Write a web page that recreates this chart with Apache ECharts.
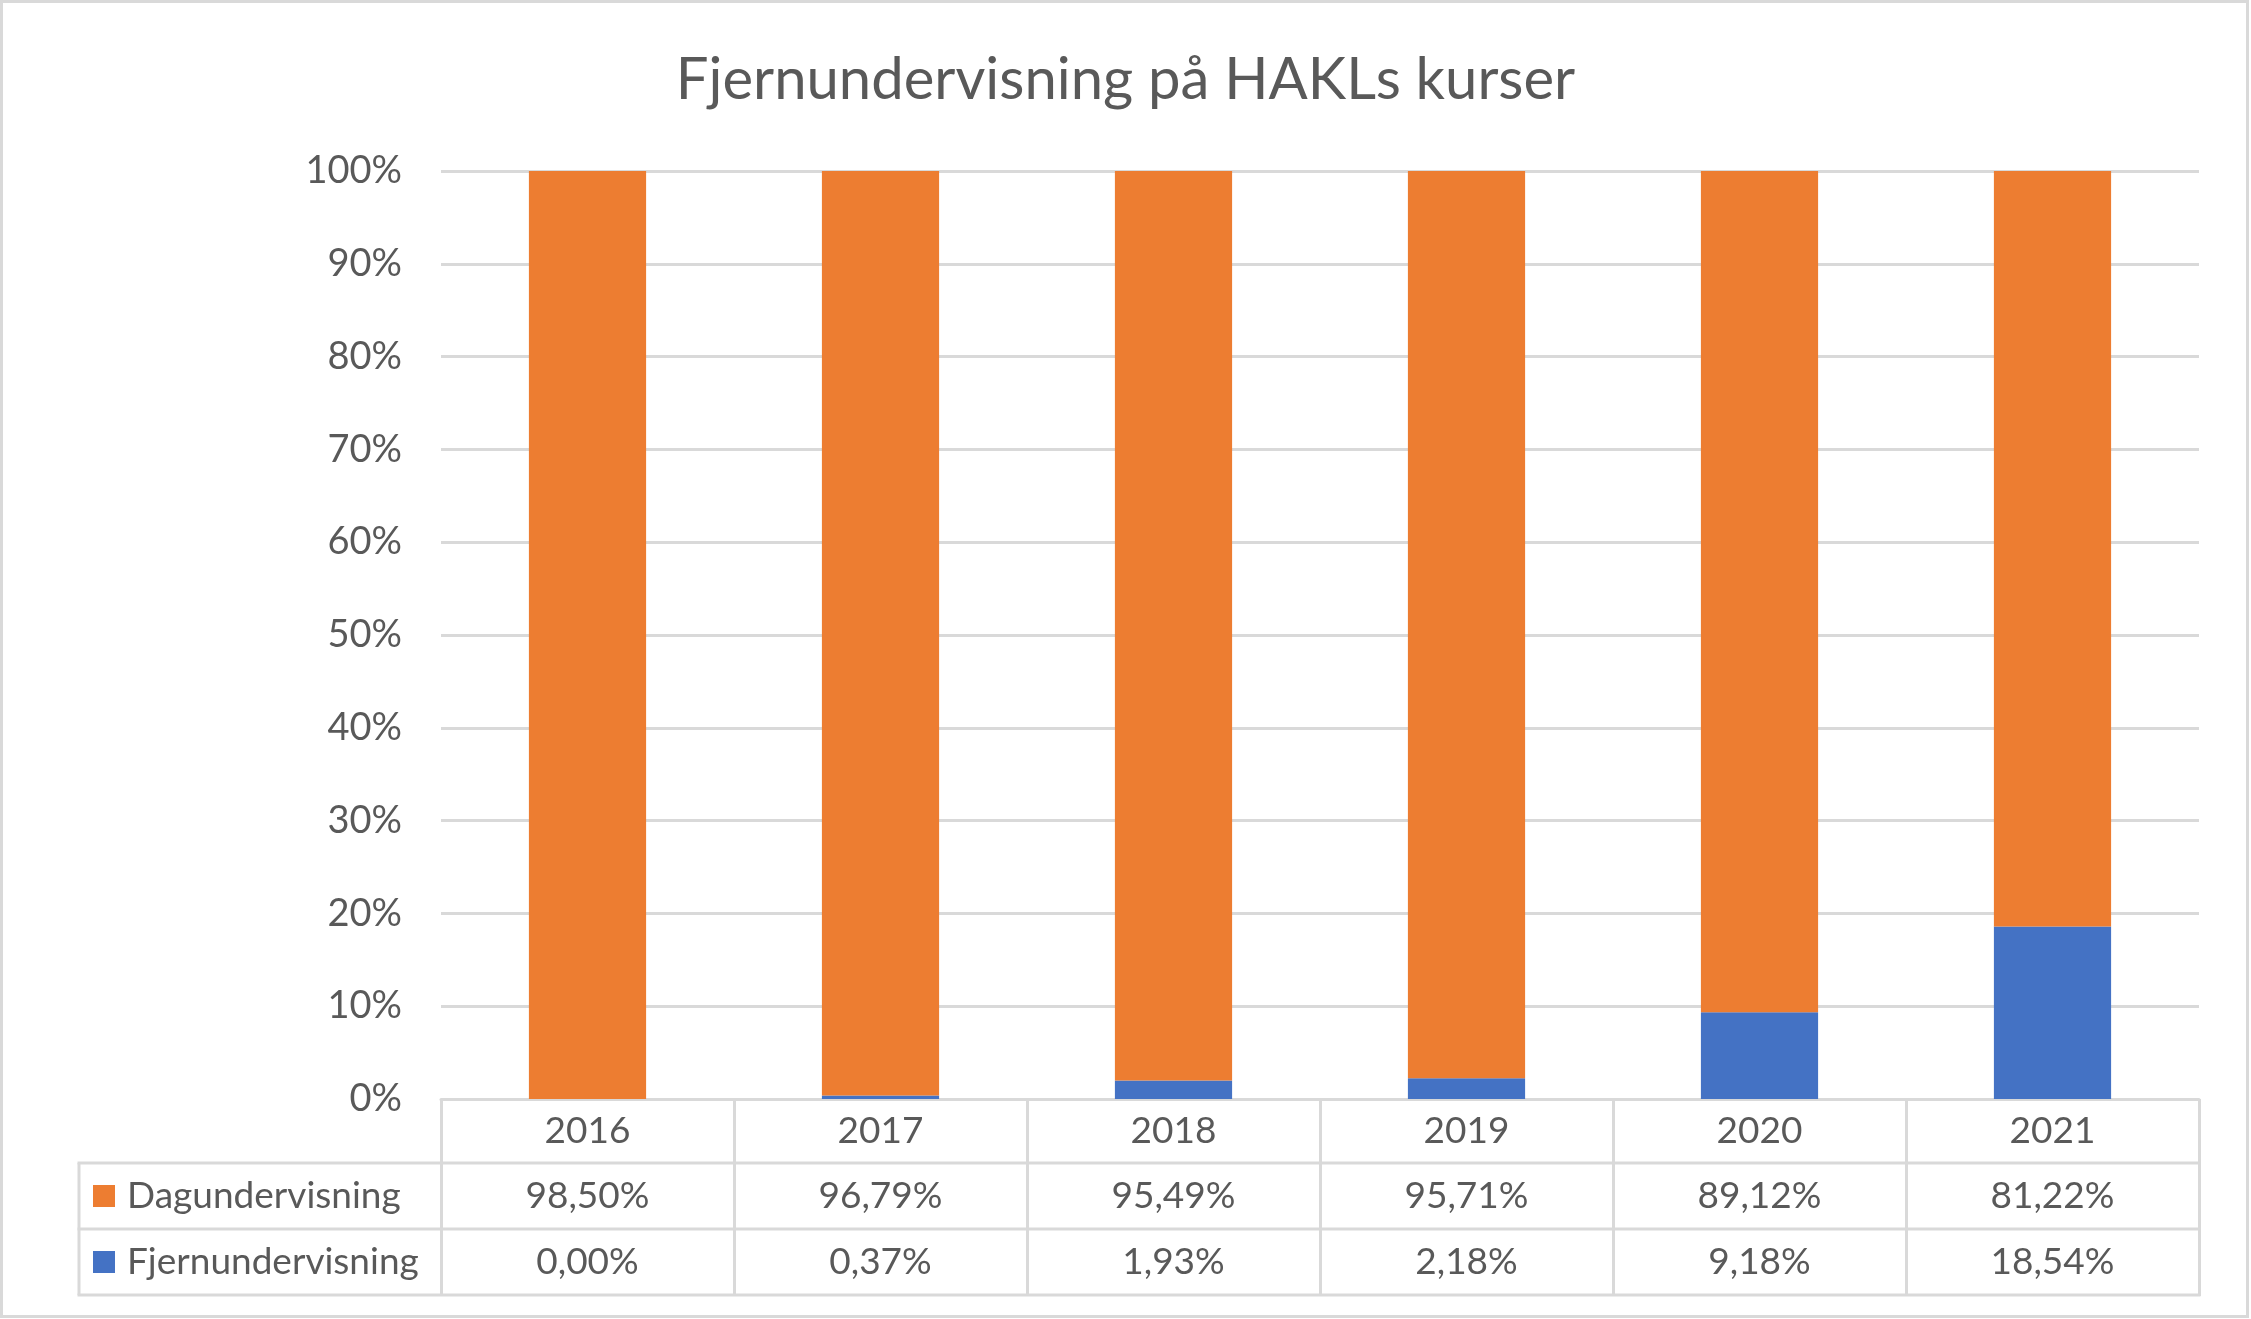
<!DOCTYPE html>
<html>
<head>
<meta charset="utf-8">
<script src="https://cdn.jsdelivr.net/npm/echarts@6/dist/echarts.min.js"></script>
<style>
  html, body { margin: 0; padding: 0; background: #fff; }
  #main { width: 2251px; height: 1319px; }
</style>
</head>
<body>
<div id="main"></div>
<script>
    // data
    var categories = ['2016', '2017', '2018', '2019', '2020', '2021'];
    var dagundervisning = [98.50, 96.79, 95.49, 95.71, 89.12, 81.22];
    var fjernundervisning = [0.00, 0.37, 1.93, 2.18, 9.18, 18.54];

    var font = 'Lato, sans-serif';
    var grey = '#595959';
    var lineColor = '#d9d9d9';
    var headerH = 64, rowH = 66;
    var legendLine = 40;

    function pct(v) {
        return v.toFixed(2).replace('.', ',') + '%';
    }
    // 100% stacked: share of the two series
    function share(a, b) {
        return a.map(function (v, i) { return v / (v + b[i]) * 100; });
    }

    var chart = echarts.init(document.getElementById('main'));
    var labelStyle = { fontFamily: font, fontSize: 37, color: grey, verticalAlign: 'middle' };

    var option = {
        animation: false,
        backgroundColor: '#fff',
        title: {
            text: 'Fjernundervisning på HAKLs kurser',
            left: 'center',
            top: 46,
            textStyle: { fontFamily: font, fontSize: 58, fontWeight: 'normal', color: grey }
        },
        legend: {
            data: ['Dagundervisning', 'Fjernundervisning'],
            orient: 'vertical',
            left: 93,
            top: 1099 + headerH + rowH / 2 - legendLine / 2,
            padding: 0,
            itemWidth: 22,
            itemHeight: 22,
            itemGap: rowH - legendLine,
            icon: 'rect',
            selectedMode: false,
            textStyle: { fontFamily: font, fontSize: 37, color: grey, lineHeight: legendLine, padding: [0, 0, 0, 7] }
        },
        grid: { left: 441, right: 52, top: 171, bottom: 220 },
        xAxis: [
            {
                type: 'category',
                data: categories,
                position: 'bottom',
                axisLine: { lineStyle: { color: lineColor, width: 3 } },
                axisTick: { show: true, interval: 0, length: headerH + 2 * rowH + 1, lineStyle: { color: lineColor, width: 3 } },
                axisLabel: Object.assign({ margin: headerH / 2 }, labelStyle)
            },
            {
                type: 'category',
                data: categories,
                position: 'bottom',
                offset: headerH,
                axisLine: { show: false },
                axisTick: { show: false },
                axisLabel: Object.assign({
                    margin: rowH / 2,
                    formatter: function (v, i) { return pct(dagundervisning[i]); }
                }, labelStyle)
            },
            {
                type: 'category',
                data: categories,
                position: 'bottom',
                offset: headerH + rowH,
                axisLine: { show: false },
                axisTick: { show: false },
                axisLabel: Object.assign({
                    margin: rowH / 2,
                    formatter: function (v, i) { return pct(fjernundervisning[i]); }
                }, labelStyle)
            }
        ],
        yAxis: {
            type: 'value',
            min: 0,
            max: 100,
            interval: 10,
            axisLine: { show: false },
            axisTick: { show: false },
            axisLabel: { formatter: '{value}%', fontFamily: font, fontSize: 38, color: grey, margin: 39 },
            splitLine: { lineStyle: { color: lineColor, width: 3 } }
        },
        series: [
            {
                name: 'Fjernundervisning',
                type: 'bar',
                stack: 'total',
                barWidth: '40%',
                itemStyle: { color: '#4472C4' },
                data: share(fjernundervisning, dagundervisning)
            },
            {
                name: 'Dagundervisning',
                type: 'bar',
                stack: 'total',
                barWidth: '40%',
                itemStyle: { color: '#ED7D31' },
                data: share(dagundervisning, fjernundervisning)
            }
        ]
    };
    chart.setOption(option);

    // table borders, placed from the axis scales
    var c0 = chart.convertToPixel({ xAxisIndex: 0 }, categories[0]);
    var c1 = chart.convertToPixel({ xAxisIndex: 0 }, categories[1]);
    var band = c1 - c0;
    var right = c0 - band / 2 + band * categories.length;
    var yb = chart.convertToPixel({ yAxisIndex: 0 }, 0);
    var tableLeft = 79;
    var lineStyle = { stroke: lineColor, lineWidth: 3 };
    var graphics = [
        { type: 'rect', shape: { x: 1.5, y: 1.5, width: 2246, height: 1315 }, style: { fill: null, stroke: lineColor, lineWidth: 3 } },
        { type: 'line', shape: { x1: tableLeft, y1: yb + headerH, x2: tableLeft, y2: yb + headerH + 2 * rowH }, style: lineStyle }
    ];
    [headerH, headerH + rowH, headerH + 2 * rowH].forEach(function (d) {
        graphics.push({ type: 'line', shape: { x1: tableLeft - 1.5, y1: yb + d, x2: right + 1.5, y2: yb + d }, style: lineStyle });
    });
    chart.setOption({ graphic: graphics });
</script>
</body>
</html>
